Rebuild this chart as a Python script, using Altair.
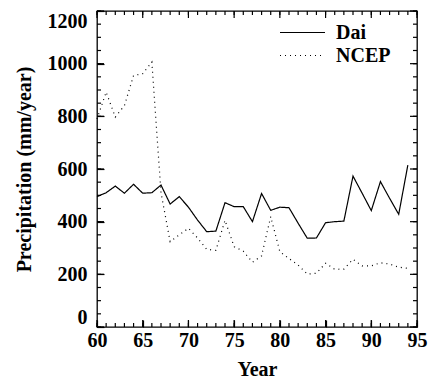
import altair as alt
import pandas as pd

# ---- data ----
years = list(range(60, 95))
dai = [495, 510, 535, 508, 542, 508, 510, 539, 467, 495,
       455, 406, 362, 364, 472, 457, 457, 400, 507, 443,
       455, 453, 394, 337, 338, 396, 400, 402, 573, 508,
       442, 552, 489, 428, 615]
ncep = [790, 892, 797, 841, 955, 962, 1006, 510, 324, 350,
        375, 338, 295, 291, 405, 305, 288, 246, 270, 419,
        286, 260, 235, 201, 204, 242, 219, 220, 257, 232,
        232, 244, 239, 227, 223]
series_names = ["Dai", "NCEP"]
x_major = [60, 65, 70, 75, 80, 85, 90, 95]
x_minor = list(range(60, 96))
y_major = [0, 200, 400, 600, 800, 1000, 1200]
y_minor = list(range(0, 1201, 50))

df = pd.DataFrame({
    "year": years * 2,
    "value": dai + ncep,
    "source": [series_names[0]] * len(dai) + [series_names[1]] * len(ncep),
})

W, H = 320, 316
FONT = "Liberation Serif"
MAJ, MIN = 7, 4
X0, X1 = 60, 95
Y0, Y1 = 0, 1200

# inward frame ticks, built from the tick arrays (lengths converted px -> data units)
ky = (Y1 - Y0) / H
kx = (X1 - X0) / W
rows = []
for vals, L in ((x_minor, MIN), (x_major, MAJ)):
    for t in vals:
        rows.append((t, t, Y0, Y0 + L * ky))
        rows.append((t, t, Y1, Y1 - L * ky))
for vals, L in ((y_minor, MIN), (y_major, MAJ)):
    for t in vals:
        rows.append((X0, X0 + L * kx, t, t))
        rows.append((X1, X1 - L * kx, t, t))
ticks_df = pd.DataFrame(rows, columns=["xa", "xb", "ya", "yb"])

xs = alt.Scale(domain=[X0, X1], nice=False, zero=False)
ys = alt.Scale(domain=[Y0, Y1], nice=False)

# axes moved inward by the tick length, so their ticks point into the frame
x_axis = alt.Axis(values=x_major, title="Year", ticks=True, tickSize=MAJ,
                  tickWidth=1.2, tickColor="black", offset=-MAJ, domain=False,
                  grid=False, labelFlush=False, labelPadding=3,
                  titlePadding=9, format="d")
y_axis = alt.Axis(values=y_major, title="Precipitation (mm/year)", ticks=True,
                  tickSize=MAJ, tickWidth=1.2, tickColor="black", offset=-MAJ,
                  domain=False, grid=False, labelFlush=True, labelFlushOffset=0,
                  labelPadding=10, titlePadding=13, format="d")

lines = alt.Chart(df).mark_line(color="black", strokeWidth=1.2).encode(
    x=alt.X("year:Q", scale=xs, axis=x_axis),
    y=alt.Y("value:Q", scale=ys, axis=y_axis),
    strokeDash=alt.StrokeDash(
        "source:N",
        scale=alt.Scale(domain=series_names, range=[[1, 0], [1, 4]]),
        legend=alt.Legend(title=None, orient="none", legendX=182, legendY=10,
                          symbolType="stroke", symbolSize=2025, symbolStrokeWidth=1.2,
                          symbolStrokeColor="black", clipHeight=23, rowPadding=0,
                          padding=0, labelOffset=10, labelFontSize=20,
                          labelFont=FONT, labelFontWeight="bold", labelColor="black",
                          labelLimit=200),
    ),
)

ticks = alt.Chart(ticks_df).mark_rule(color="black", strokeWidth=1.2).encode(
    x=alt.X("xa:Q", scale=xs, axis=x_axis),
    x2="xb:Q",
    y=alt.Y("ya:Q", scale=ys, axis=y_axis),
    y2="yb:Q",
)

chart = alt.layer(lines, ticks).properties(
    width=W, height=H,
    autosize=alt.AutoSizeParams(type="none"),
    padding={"left": 97, "top": 11, "right": 11, "bottom": 59},
    background="white",
).configure_view(
    stroke="black", strokeWidth=1.3
).configure_axis(
    labelFont=FONT, labelFontSize=20, labelFontWeight="bold", labelColor="black",
    titleFont=FONT, titleFontSize=20, titleFontWeight="bold", titleColor="black",
)

chart.save("out.html", embed_options={"renderer": "svg", "actions": False})
